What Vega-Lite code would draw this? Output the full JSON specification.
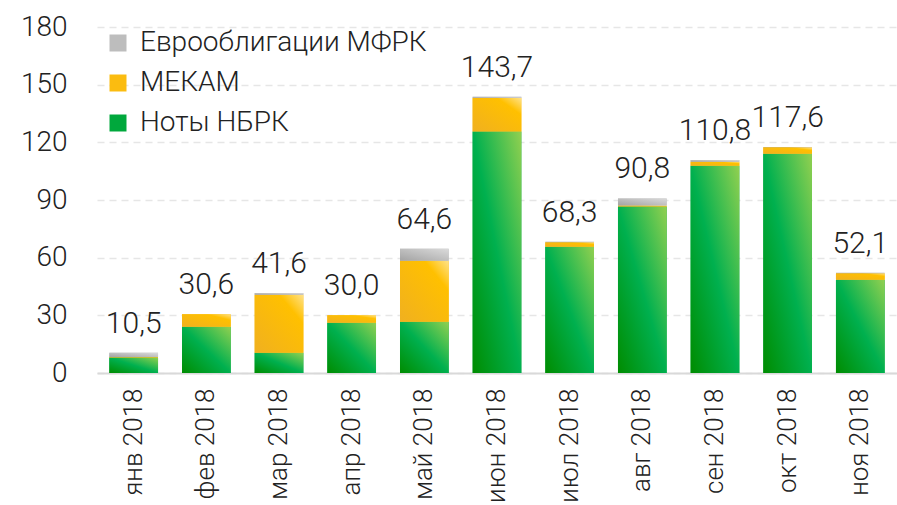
{
  "$schema": "https://vega.github.io/schema/vega-lite/v6.json",
  "autosize": "none",
  "width": 800,
  "height": 346,
  "padding": {"left": 97, "top": 27, "right": 0, "bottom": 132},
  "config": {
    "font": "Roboto",
    "view": {"stroke": null},
    "locale": {"number": {"decimal": ",", "thousands": " ", "grouping": [3], "currency": ["", ""]}}
  },
  "data": {"values": [
    {"month": "янв 2018", "series": "Ноты НБРК", "value": 8.1},
    {"month": "янв 2018", "series": "МЕКАМ", "value": 0.2},
    {"month": "янв 2018", "series": "Еврооблигации МФРК", "value": 2.2},
    {"month": "фев 2018", "series": "Ноты НБРК", "value": 24.1},
    {"month": "фев 2018", "series": "МЕКАМ", "value": 6.5},
    {"month": "фев 2018", "series": "Еврооблигации МФРК", "value": 0.0},
    {"month": "мар 2018", "series": "Ноты НБРК", "value": 10.5},
    {"month": "мар 2018", "series": "МЕКАМ", "value": 30.2},
    {"month": "мар 2018", "series": "Еврооблигации МФРК", "value": 0.9},
    {"month": "апр 2018", "series": "Ноты НБРК", "value": 26.2},
    {"month": "апр 2018", "series": "МЕКАМ", "value": 3.8},
    {"month": "апр 2018", "series": "Еврооблигации МФРК", "value": 0.0},
    {"month": "май 2018", "series": "Ноты НБРК", "value": 26.7},
    {"month": "май 2018", "series": "МЕКАМ", "value": 31.7},
    {"month": "май 2018", "series": "Еврооблигации МФРК", "value": 6.2},
    {"month": "июн 2018", "series": "Ноты НБРК", "value": 125.6},
    {"month": "июн 2018", "series": "МЕКАМ", "value": 17.4},
    {"month": "июн 2018", "series": "Еврооблигации МФРК", "value": 0.7},
    {"month": "июл 2018", "series": "Ноты НБРК", "value": 65.7},
    {"month": "июл 2018", "series": "МЕКАМ", "value": 2.3},
    {"month": "июл 2018", "series": "Еврооблигации МФРК", "value": 0.3},
    {"month": "авг 2018", "series": "Ноты НБРК", "value": 86.6},
    {"month": "авг 2018", "series": "МЕКАМ", "value": 0.5},
    {"month": "авг 2018", "series": "Еврооблигации МФРК", "value": 3.7},
    {"month": "сен 2018", "series": "Ноты НБРК", "value": 107.8},
    {"month": "сен 2018", "series": "МЕКАМ", "value": 2.1},
    {"month": "сен 2018", "series": "Еврооблигации МФРК", "value": 0.9},
    {"month": "окт 2018", "series": "Ноты НБРК", "value": 114.0},
    {"month": "окт 2018", "series": "МЕКАМ", "value": 3.4},
    {"month": "окт 2018", "series": "Еврооблигации МФРК", "value": 0.2},
    {"month": "ноя 2018", "series": "Ноты НБРК", "value": 48.5},
    {"month": "ноя 2018", "series": "МЕКАМ", "value": 3.4},
    {"month": "ноя 2018", "series": "Еврооблигации МФРК", "value": 0.2}
  ]},
  "transform": [
    {"stack": "value", "groupby": ["month"], "sort": [{"field": "series", "order": "descending"}], "as": ["y0", "y1"]}
  ],
  "encoding": {
    "x": {
      "field": "month", "type": "nominal", "sort": null, "title": null,
      "scale": {"paddingInner": 0.33, "paddingOuter": 0.17},
      "axis": {
        "labelAngle": -90, "labelFontSize": 26, "labelFontWeight": 300, "labelColor": "#222222",
        "labelPadding": 15, "ticks": false, "domainColor": "#d9d9d9", "domainWidth": 2,
        "labelAlign": "right", "labelBaseline": "middle", "labelLimit": 0
      }
    }
  },
  "layer": [
    {
      "mark": {"type": "bar"},
      "encoding": {
        "y": {
          "field": "y1", "type": "quantitative", "title": null,
          "scale": {"domain": [0, 180]},
          "axis": {
            "values": [0, 30, 60, 90, 120, 150, 180], "domain": false, "ticks": false,
            "labelFontSize": 28, "labelFontWeight": 300, "labelColor": "#222222", "labelPadding": 30,
            "gridColor": "#e6e6e6", "gridDash": [7, 5], "gridWidth": 1.5
          }
        },
        "y2": {"field": "y0"},
        "color": {
          "field": "series", "type": "nominal",
          "scale": {
            "domain": ["Еврооблигации МФРК", "МЕКАМ", "Ноты НБРК"],
            "range": ["#bdbdbd", "#fbbc10", "#00a83c"]
          },
          "legend": {
            "title": null, "orient": "none", "legendX": 7, "legendY": 2, "padding": 0,
            "symbolType": "square", "symbolSize": 289, "symbolStrokeWidth": 0, "symbolOpacity": 1,
            "labelFontSize": 28, "labelFontWeight": 300, "labelColor": "#222222", "labelOffset": 8,
            "labelLimit": 0, "rowPadding": 12
          }
        }
      }
    },
    {
      "transform": [{"filter": "datum.series === 'Ноты НБРК'"}],
      "mark": {"type": "bar", "color": {"gradient": "linear", "x1": 0, "y1": 1, "x2": 1, "y2": 0, "stops": [{"offset": 0, "color": "#008c00"}, {"offset": 0.5, "color": "#00b04f"}, {"offset": 1, "color": "#92d050"}]}},
      "encoding": {"y": {"field": "y1", "type": "quantitative"}, "y2": {"field": "y0"}}
    },
    {
      "transform": [{"filter": "datum.series === 'МЕКАМ'"}],
      "mark": {"type": "bar", "color": {"gradient": "linear", "x1": 0, "y1": 1, "x2": 1, "y2": 0, "stops": [{"offset": 0, "color": "#f0b020"}, {"offset": 0.75, "color": "#ffc000"}, {"offset": 1, "color": "#ffe28a"}]}},
      "encoding": {"y": {"field": "y1", "type": "quantitative"}, "y2": {"field": "y0"}}
    },
    {
      "transform": [{"filter": "datum.series === 'Еврооблигации МФРК'"}],
      "mark": {"type": "bar", "color": {"gradient": "linear", "x1": 0, "y1": 1, "x2": 1, "y2": 0, "stops": [{"offset": 0, "color": "#a3a3a3"}, {"offset": 1, "color": "#dadada"}]}},
      "encoding": {"y": {"field": "y1", "type": "quantitative"}, "y2": {"field": "y0"}}
    },
    {
      "mark": {"type": "text", "baseline": "bottom", "dy": -14, "fontSize": 30, "fontWeight": 300, "color": "#222222"},
      "encoding": {
        "y": {"aggregate": "sum", "field": "value", "type": "quantitative"},
        "text": {"aggregate": "sum", "field": "value", "type": "quantitative", "format": ".1f"}
      }
    }
  ]
}
